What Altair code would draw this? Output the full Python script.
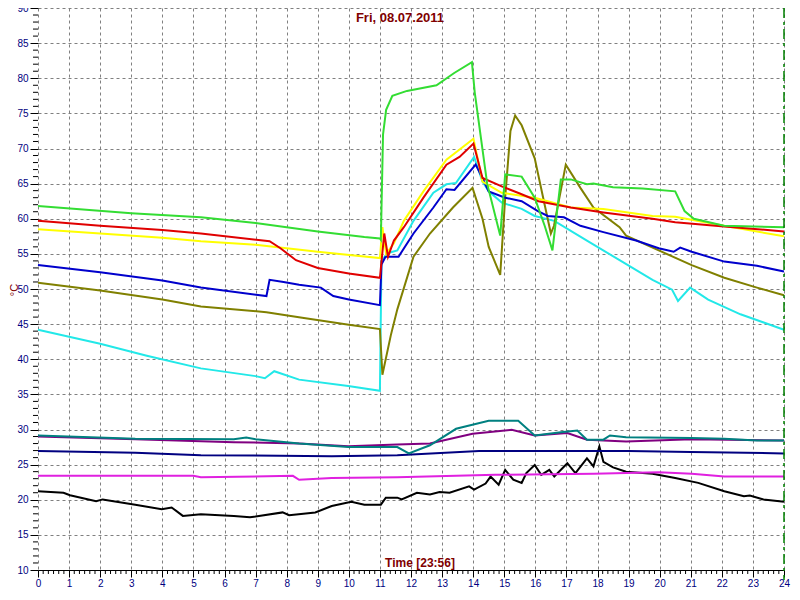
import altair as alt
import pandas as pd

TITLE = "Fri, 08.07.2011"
X_TITLE = "Time [23:56]"
Y_TITLE = "°C"

# ---- series (hour, °C) ----
green_h = [0, 3, 5.24, 7, 9, 10.5, 11.0, 11.03, 11.1, 11.2, 11.4, 11.87, 12.82, 13.39, 13.96, 14.05, 14.45, 14.87, 15.03, 15.56, 15.98, 16.3, 16.55, 16.82, 17.14, 17.66, 17.87, 18.5, 19.45, 20.5, 20.8, 21.1, 22.07, 24]
green_v = [61.8, 60.8, 60.2, 59.4, 58.2, 57.4, 57.2, 57.0, 72.0, 75.5, 77.5, 78.2, 79.0, 80.75, 82.3, 78.0, 65.0, 57.6, 66.3, 66.0, 63.0, 59.0, 55.5, 65.6, 65.6, 64.9, 65.0, 64.5, 64.3, 63.9, 61.1, 60.0, 59.0, 58.8]

red_h = [0, 2, 4, 5.24, 7.45, 7.8, 8.3, 9.0, 10, 11.0, 11.14, 11.26, 11.45, 11.77, 12.4, 13.14, 13.56, 14.01, 14.3, 14.92, 15.5, 16.1, 17.14, 18.19, 19.77, 20.5, 22.07, 24]
red_v = [59.7, 59.0, 58.4, 57.9, 56.8, 55.8, 54.1, 53.0, 52.2, 51.6, 57.9, 54.6, 56.9, 58.8, 63.0, 67.7, 68.8, 70.7, 65.8, 64.6, 63.6, 62.5, 61.6, 60.9, 60.0, 59.5, 58.9, 58.2]

yellow_h = [0, 2, 4, 5.24, 7, 9, 11.0, 11.08, 11.2, 11.45, 11.77, 12.4, 13.14, 14.01, 14.3, 14.92, 15.98, 17.14, 18.19, 19.77, 20.5, 22.07, 24]
yellow_v = [58.5, 57.9, 57.3, 56.8, 56.3, 55.3, 54.4, 58.8, 55.0, 56.5, 59.7, 63.9, 68.4, 71.4, 65.3, 63.7, 63.0, 61.6, 61.4, 60.4, 60.3, 59.0, 57.5]

blue_h = [0, 2, 4, 5.24, 7.35, 7.45, 7.9, 8.4, 9.1, 9.5, 10.0, 11.0, 11.05, 11.18, 11.6, 12.08, 12.72, 13.14, 13.4, 14.08, 14.3, 14.5, 15.03, 15.56, 16.08, 16.4, 16.92, 17.45, 18.19, 19.24, 19.97, 20.45, 20.66, 21.03, 22.08, 23.13, 24]
blue_v = [53.4, 52.4, 51.2, 50.2, 49.0, 51.3, 51.0, 50.6, 50.2, 49.0, 48.5, 47.7, 53.5, 54.6, 54.6, 57.9, 61.6, 64.2, 64.1, 67.7, 65.8, 63.9, 63.0, 62.5, 61.1, 60.4, 60.2, 59.0, 58.1, 56.9, 55.8, 55.3, 55.9, 55.3, 53.9, 53.3, 52.5]

olive_h = [0, 2, 4, 5.24, 7.35, 8.5, 10, 11.0, 11.08, 11.35, 11.56, 12.08, 12.61, 13.35, 13.98, 14.3, 14.5, 14.87, 15.03, 15.2, 15.35, 15.56, 15.98, 16.3, 16.5, 16.6, 16.98, 17.45, 17.87, 18.71, 18.92, 19.97, 21.03, 22.08, 23.13, 24]
olive_v = [50.9, 49.8, 48.5, 47.5, 46.7, 45.9, 44.9, 44.3, 37.8, 43.4, 47.1, 54.6, 57.9, 61.6, 64.4, 60.0, 56.0, 52.0, 63.0, 72.5, 74.7, 73.3, 68.6, 62.0, 57.9, 59.0, 67.7, 64.4, 61.6, 58.8, 57.6, 55.5, 53.4, 51.6, 50.2, 49.1]

cyan_h = [0, 1, 2, 3.5, 5.24, 7.0, 7.3, 7.6, 8.4, 9.98, 11.0, 11.05, 11.24, 11.56, 12.08, 12.72, 13.14, 13.45, 14.03, 14.3, 14.5, 14.92, 15.56, 15.98, 16.61, 17.66, 18.71, 19.77, 20.4, 20.59, 20.98, 21.56, 22.6, 24]
cyan_v = [44.2, 43.2, 42.2, 40.5, 38.7, 37.6, 37.3, 38.3, 37.1, 36.2, 35.5, 54.0, 55.1, 55.5, 59.7, 63.7, 64.9, 65.1, 68.8, 65.3, 63.9, 62.3, 61.4, 60.4, 59.7, 56.9, 54.1, 51.3, 49.9, 48.3, 50.2, 48.5, 46.4, 44.2]

teal_h = [0, 3.13, 6.3, 6.7, 7.0, 8.4, 9.98, 11.56, 11.93, 12.61, 13.45, 14.5, 15.45, 15.98, 16.82, 17.35, 17.66, 18.19, 18.4, 18.92, 21.03, 22.08, 23.13, 24]
teal_v = [29.15, 28.7, 28.6, 28.85, 28.6, 28.0, 27.5, 27.5, 26.6, 27.75, 30.1, 31.25, 31.25, 29.15, 29.6, 29.85, 28.55, 28.55, 29.15, 28.9, 28.8, 28.7, 28.45, 28.45]

purple_h = [0, 3.13, 6.3, 8.4, 9.98, 11.56, 12.61, 13.98, 15.24, 15.98, 17.03, 17.66, 18.92, 21.03, 24]
purple_v = [29.0, 28.6, 28.2, 28.0, 27.6, 27.85, 28.0, 29.4, 29.95, 29.15, 29.5, 28.55, 28.3, 28.6, 28.45]

navy_h = [0, 3.13, 5.24, 9.45, 11.56, 14.19, 19.0, 21.0, 24]
navy_v = [26.95, 26.7, 26.35, 26.2, 26.35, 26.95, 26.95, 26.8, 26.6]

magenta_h = [0, 5.0, 5.24, 8.2, 8.4, 9.45, 11.56, 14.72, 17.87, 19.97, 21.03, 22.08, 24]
magenta_v = [23.4, 23.4, 23.2, 23.4, 22.85, 23.1, 23.2, 23.55, 23.7, 23.9, 23.7, 23.3, 23.3]

black_h = [0, 0.82, 1.03, 1.87, 2.08, 3.13, 3.98, 4.3, 4.66, 5.24, 6.3, 6.82, 7.87, 8.08, 8.92, 9.45, 10.08, 10.5, 11.03, 11.19, 11.56, 11.7, 12.19, 12.61, 12.92, 13.24, 13.87, 14.03, 14.4, 14.56, 14.82, 15.03, 15.29, 15.56, 15.71, 15.98, 16.19, 16.45, 16.61, 17.03, 17.29, 17.66, 17.87, 18.06, 18.19, 18.5, 18.92, 19.77, 20.5, 21.24, 22.08, 22.71, 22.9, 23.34, 24]
black_v = [21.2, 21.0, 20.65, 19.8, 20.05, 19.3, 18.65, 18.9, 17.7, 17.95, 17.7, 17.5, 18.2, 17.8, 18.2, 19.1, 19.7, 19.3, 19.3, 20.3, 20.3, 20.05, 21.0, 20.75, 21.1, 21.0, 21.9, 21.45, 22.3, 23.3, 22.15, 24.25, 22.85, 22.4, 23.8, 24.95, 23.55, 24.25, 23.3, 25.2, 23.8, 25.9, 24.75, 27.6, 25.4, 24.6, 24.0, 23.7, 23.1, 22.4, 21.2, 20.5, 20.6, 20.05, 19.7]

series = [
    (black_h, black_v, "#000000"),
    (magenta_h, magenta_v, "#E020E0"),
    (navy_h, navy_v, "#000080"),
    (purple_h, purple_v, "#800080"),
    (teal_h, teal_v, "#008080"),
    (cyan_h, cyan_v, "#22E8E8"),
    (olive_h, olive_v, "#808000"),
    (blue_h, blue_v, "#0000CC"),
    (yellow_h, yellow_v, "#FFFF00"),
    (red_h, red_v, "#E00000"),
    (green_h, green_v, "#33DD33"),
]

x_major = list(range(0, 25))
x_minor = [h + k / 6 for h in range(24) for k in range(1, 6)]
y_major = list(range(10, 95, 5))
y_minor = [v for v in range(11, 90) if v % 5 != 0]
now_marker = [24]

PAD_L, PAD_R, PAD_B = 30, 8, 20
W, H = 784 - PAD_L - PAD_R, 562
FONT = "Liberation Sans"
xs = alt.Scale(domain=[0, 24], nice=False, zero=False)
ys = alt.Scale(domain=[10, 90], nice=False, zero=False)
x_axis = alt.Axis(values=x_major, title=None, tickSize=7, tickColor="black", domainColor="black",
                  grid=True, gridDash=[3, 3], gridColor="#808080", labelColor="#000080",
                  labelFont=FONT, labelFontSize=10, labelPadding=1, labelFlush=False)
y_axis = alt.Axis(values=y_major, title=None, tickSize=8, tickColor="black", domain=False,
                  grid=True, gridDash=[3, 3], gridColor="#808080", labelColor="#000080",
                  labelFont=FONT, labelFontSize=10, labelPadding=2, labelFlush=False)

layers = []
for h, v, c in series:
    layers.append(
        alt.Chart(pd.DataFrame({"h": h, "v": v})).mark_line(color=c, strokeWidth=2).encode(
            x=alt.X("h:Q", scale=xs, axis=x_axis), y=alt.Y("v:Q", scale=ys, axis=y_axis))
    )

layers.append(
    alt.Chart(pd.DataFrame({"h": x_minor})).mark_rule(color="black").encode(
        x=alt.X("h:Q", scale=xs, axis=x_axis), y=alt.value(H), y2=alt.value(H + 4))
)
layers.append(
    alt.Chart(pd.DataFrame({"v": y_minor})).mark_rule(color="black").encode(
        y=alt.Y("v:Q", scale=ys, axis=y_axis), x=alt.value(-5), x2=alt.value(0))
)
layers.append(
    alt.Chart(pd.DataFrame({"h": now_marker})).mark_rule(color="#008000", strokeWidth=1.5,
                                                          strokeDash=[10, 4, 3, 4]).encode(
        x=alt.X("h:Q", scale=xs, axis=x_axis), y=alt.value(0), y2=alt.value(H + 10))
)
layers.append(
    alt.Chart(pd.DataFrame({"t": [TITLE]})).mark_text(font=FONT, fontSize=13, fontWeight="bold",
                                                      color="#800000", align="center", baseline="middle").encode(
        text="t:N", x=alt.value(400 - 8 - PAD_L), y=alt.value(10))
)
layers.append(
    alt.Chart(pd.DataFrame({"t": [X_TITLE]})).mark_text(font=FONT, fontSize=12, fontWeight="bold",
                                                        color="#800000", align="center", baseline="middle").encode(
        text="t:N", x=alt.value(420 - 8 - PAD_L), y=alt.value(H - 7))
)
layers.append(
    alt.Chart(pd.DataFrame({"t": [Y_TITLE]})).mark_text(font=FONT, fontSize=11, color="#800000",
                                                        angle=270, align="center", baseline="alphabetic").encode(
        text="t:N", x=alt.value(-20), y=alt.value(282))
)

chart = alt.layer(*layers).properties(
    width=W, height=H,
    padding={"left": PAD_L, "top": 0, "right": PAD_R, "bottom": PAD_B},
    autosize=alt.AutoSizeParams(type="none"),
    background="white",
).configure_view(stroke=None)

chart.save("out.html", embed_options={"renderer": "svg", "actions": False})
